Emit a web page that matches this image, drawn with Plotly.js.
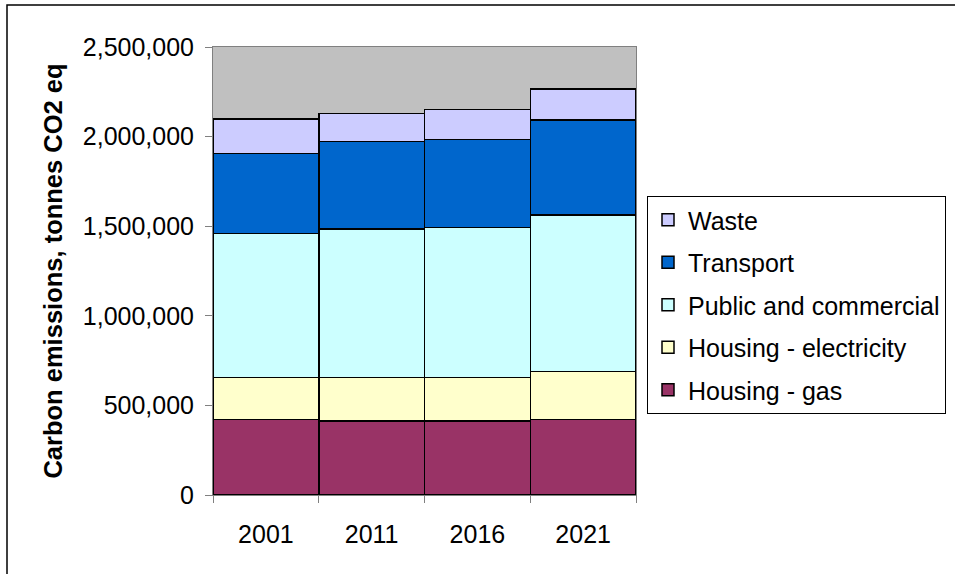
<!DOCTYPE html>
<html>
<head>
<meta charset="utf-8">
<script src="https://cdn.plot.ly/plotly-3.0.1.min.js"></script>
<style>html,body{margin:0;padding:0;background:#fff;}#chart{width:955px;height:574px;}</style>
</head>
<body>
<div id="chart"></div>
<script>
const years = ["2001", "2011", "2016", "2021"];
const housingGas = [422000, 413000, 413000, 422000];
const housingElectricity = [235000, 244000, 244000, 268000];
const publicCommercial = [803000, 827000, 837000, 872000];
const transport = [447000, 488000, 491000, 532000];
const waste = [190000, 158000, 167000, 172000];
const yTicks = [0, 500000, 1000000, 1500000, 2000000, 2500000];
const yTickLabels = ["0", "500,000", "1,000,000", "1,500,000", "2,000,000", "2,500,000"];

const series = [
  {name: "Housing - gas", y: housingGas, color: "#993366"},
  {name: "Housing - electricity", y: housingElectricity, color: "#FFFFCC"},
  {name: "Public and commercial", y: publicCommercial, color: "#CCFFFF"},
  {name: "Transport", y: transport, color: "#0066CC"},
  {name: "Waste", y: waste, color: "#CCCCFF"}
];

const traces = series.map((s, i) => ({
  type: "bar",
  name: s.name,
  x: years,
  y: s.y,
  legendgroup: "g" + i,
  legendrank: 1000 - i,
  marker: {color: s.color, line: {color: "#000000", width: 1.5}},
  hoverinfo: "name+y"
}));

const font = "Liberation Sans, Arial, sans-serif";

const layout = {
  width: 955,
  height: 574,
  margin: {l: 213, r: 319, t: 47, b: 79, autoexpand: false},
  paper_bgcolor: "#ffffff",
  plot_bgcolor: "#C0C0C0",
  barmode: "stack",
  bargap: 0,
  font: {family: font, size: 25, color: "#000000"},
  showlegend: true,
  legend: {
    x: (647 - 213) / 423, y: (495 - 196) / 448, xanchor: "left", yanchor: "top",
    traceorder: "grouped",
    tracegroupgap: 7,
    bordercolor: "#000000", borderwidth: 1,
    bgcolor: "#ffffff",
    font: {family: font, size: 25, color: "#000000"}
  },
  xaxis: {
    type: "category",
    tickson: "boundaries",
    ticks: "outside", ticklen: 7, tickcolor: "#808080", tickwidth: 1,
    ticklabelstandoff: 17,
    showline: true, linecolor: "#808080", linewidth: 1, mirror: true,
    showgrid: false,
    tickfont: {family: font, size: 25, color: "#000000"},
    automargin: false
  },
  yaxis: {
    range: [0, 2500000],
    tickvals: yTicks,
    ticktext: yTickLabels,
    ticks: "outside", ticklen: 7, tickcolor: "#808080", tickwidth: 1,
    ticklabelstandoff: 6,
    showline: true, linecolor: "#808080", linewidth: 1, mirror: true,
    showgrid: false, zeroline: false,
    tickfont: {family: font, size: 25, color: "#000000"},
    title: {text: "<b>Carbon emissions, tonnes CO2 eq</b>", font: {family: font, size: 25.5, color: "#000000"}, standoff: 12},
    automargin: false
  },
  shapes: [{
    type: "rect", xref: "paper", yref: "paper",
    x0: (7 - 213) / 423, x1: (1000 - 213) / 423,
    y0: (495 - 620) / 448, y1: (495 - 5) / 448,
    line: {color: "#000000", width: 1.5},
    fillcolor: "rgba(0,0,0,0)",
    layer: "below"
  }]
};

Plotly.newPlot("chart", traces, layout, {displayModeBar: false, staticPlot: true});
</script>
</body>
</html>
